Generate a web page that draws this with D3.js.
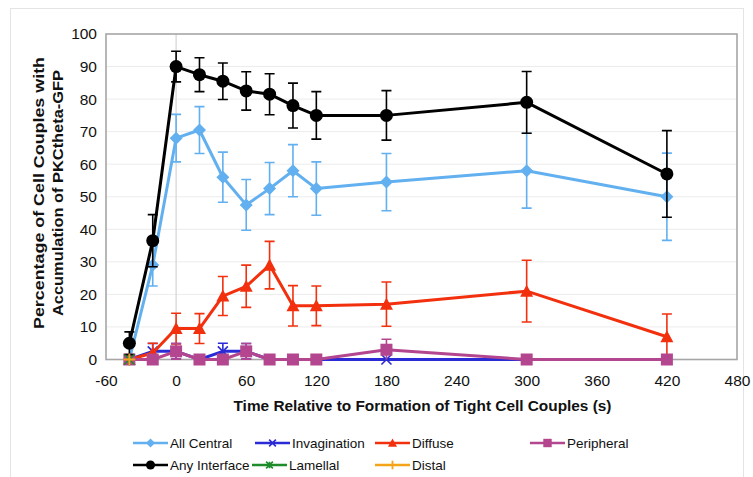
<!DOCTYPE html>
<html>
<head>
<meta charset="utf-8">
<script src="https://cdn.jsdelivr.net/npm/d3@7"></script>
<style>
  html, body { margin: 0; padding: 0; background: #fff; }
  svg { display: block; font-family: "Liberation Sans", Arial, sans-serif; }
</style>
</head>
<body>
<svg id="chart" width="753" height="477"></svg>
<script>
// Time points (s) relative to tight couple formation
const times = [-40, -20, 0, 20, 40, 60, 80, 100, 120, 180, 300, 420];

// Percentage of couples per accumulation pattern, with error bar half-widths
const allCentral       = [0, 29, 68, 70.5, 56, 47.5, 52.5, 58, 52.5, 54.5, 58, 50];
const allCentralErr    = [0, 6.4, 7.3, 7.2, 7.7, 7.8, 8, 8, 8.2, 8.8, 11.5, 13.4];
const anyInterface     = [5, 36.5, 90, 87.5, 85.5, 82.5, 81.5, 78, 75, 75, 79, 57];
const anyInterfaceErr  = [3.5, 8, 4.7, 5.2, 5.6, 5.9, 6.3, 6.9, 7.3, 7.6, 9.5, 13.3];
const invagination     = [0, 2.5, 2.5, 0, 2.5, 2.5, 0, 0, 0, 0, 0, 0];
const invaginationErr  = [0, 2.4, 2.4, 0, 2.5, 2.4, 0, 0, 0, 0, 0, 0];
const lamellal         = [0, null, null, null, null, null, null, null, null, null, null, null];
const diffuse          = [0, 2, 9.5, 9.5, 19.5, 22.5, 29, 16.5, 16.5, 17, 21, 7];
const diffuseErr       = [0, 3, 4.7, 4.6, 6, 6.5, 7.3, 6.2, 6.1, 6.8, 9.5, 7];
const distal           = [0, null, null, null, null, null, null, null, null, null, null, null];
const peripheral       = [0, 0, 2.5, 0, 0, 2.5, 0, 0, 0, 3, 0, 0];
const peripheralErr    = [0, 0, 2.4, 0, 0, 2.4, 0, 0, 0, 3.2, 0, 0];

// Axis ticks
const xTicks = [-60, 0, 60, 120, 180, 240, 300, 360, 420, 480];
const yTicks = [0, 10, 20, 30, 40, 50, 60, 70, 80, 90, 100];

const xTitle = "Time Relative to Formation of Tight Cell Couples (s)";
const yTitle = ["Percentage of Cell Couples with", "Accumulation of PKCtheta-GFP"];

// Series table (draw order), built from the arrays above
const series = [
  { name: "All Central",   values: allCentral,   err: allCentralErr,   color: "#62B0EF", marker: "diamond" },
  { name: "Invagination",  values: invagination, err: invaginationErr, color: "#2A2AD6", marker: "cross" },
  { name: "Diffuse",       values: diffuse,      err: diffuseErr,      color: "#F2300E", marker: "triangle" },
  { name: "Peripheral",    values: peripheral,   err: peripheralErr,   color: "#B3468E", marker: "square" },
  { name: "Any Interface", values: anyInterface, err: anyInterfaceErr, color: "#000000", marker: "circle" },
  { name: "Lamellal",      values: lamellal,     err: null,            color: "#1E8C2A", marker: "asterisk" },
  { name: "Distal",        values: distal,       err: null,            color: "#F4A418", marker: "plus" }
];

const FONT = "'Liberation Sans', Arial, sans-serif";
const svg = d3.select("#chart");

// Outer chart frame
svg.append("rect").attr("x", 10.5).attr("y", 8.5).attr("width", 733).attr("height", 470)
  .attr("fill", "none").attr("stroke", "#e4e4e4").attr("stroke-width", 1);

const plot = { left: 106, right: 737, top: 34, bottom: 359.5 };
const x = d3.scaleLinear().domain([-60, 480]).range([plot.left, plot.right]);
const y = d3.scaleLinear().domain([0, 100]).range([plot.bottom, plot.top]);

// Horizontal gridlines
svg.append("g").selectAll("line").data(yTicks.filter(t => t > 0 && t < 100)).join("line")
  .attr("x1", plot.left).attr("x2", plot.right)
  .attr("y1", d => y(d)).attr("y2", d => y(d))
  .attr("stroke", "#ececec").attr("stroke-width", 1);

// Vertical line at t = 0
svg.append("line")
  .attr("x1", x(0)).attr("x2", x(0)).attr("y1", plot.top).attr("y2", plot.bottom)
  .attr("stroke", "#d4d4d4").attr("stroke-width", 1.2);

// Plot box
svg.append("rect")
  .attr("x", plot.left).attr("y", plot.top)
  .attr("width", plot.right - plot.left).attr("height", plot.bottom - plot.top)
  .attr("fill", "none").attr("stroke", "#a6a6a6").attr("stroke-width", 1.6);

// Axes (labels only; the box draws the axis lines)
const yAxis = d3.axisLeft(y).tickValues(yTicks).tickSize(0).tickPadding(9);
const yg = svg.append("g").attr("transform", `translate(${plot.left},0)`).call(yAxis);
yg.select(".domain").remove();
yg.selectAll("text").attr("font-size", 15.5).attr("fill", "#111").attr("font-family", FONT);

const xAxis = d3.axisBottom(x).tickValues(xTicks).tickSize(0).tickPadding(15)
  .tickFormat(d => String(d));
const xg = svg.append("g").attr("transform", `translate(0,${plot.bottom})`).call(xAxis);
xg.select(".domain").remove();
xg.selectAll("text").attr("font-size", 15.5).attr("fill", "#111").attr("font-family", FONT);

// Axis titles
svg.append("text").attr("x", 422.5).attr("y", 410.5)
  .attr("text-anchor", "middle").attr("font-size", 15.3).attr("font-weight", "bold")
  .attr("fill", "#111").attr("textLength", 378).attr("lengthAdjust", "spacingAndGlyphs")
  .text(xTitle);

const yTitleG = svg.append("g").attr("transform", "translate(0,193) rotate(-90)");
yTitleG.append("text").attr("x", 0).attr("y", 44)
  .attr("text-anchor", "middle").attr("font-size", 15.5).attr("font-weight", "bold").attr("fill", "#111")
  .attr("textLength", 272).attr("lengthAdjust", "spacingAndGlyphs").text(yTitle[0]);
yTitleG.append("text").attr("x", 0).attr("y", 63)
  .attr("text-anchor", "middle").attr("font-size", 15.5).attr("font-weight", "bold").attr("fill", "#111")
  .attr("textLength", 246).attr("lengthAdjust", "spacingAndGlyphs").text(yTitle[1]);

// Marker drawing helper
function drawMarker(g, type, cx, cy, size, color) {
  const s = size;
  if (type === "circle") {
    g.append("circle").attr("cx", cx).attr("cy", cy).attr("r", s / 2).attr("fill", color);
  } else if (type === "diamond") {
    const h = s / 2;
    g.append("path").attr("d", `M${cx},${cy - h}L${cx + h},${cy}L${cx},${cy + h}L${cx - h},${cy}Z`).attr("fill", color);
  } else if (type === "triangle") {
    const h = s / 2;
    g.append("path").attr("d", `M${cx},${cy - h}L${cx + h},${cy + h * 0.85}L${cx - h},${cy + h * 0.85}Z`).attr("fill", color);
  } else if (type === "square") {
    g.append("rect").attr("x", cx - s / 2).attr("y", cy - s / 2).attr("width", s).attr("height", s).attr("fill", color);
  } else if (type === "cross") {
    const h = s / 2 - 0.5;
    g.append("path").attr("d", `M${cx - h},${cy - h}L${cx + h},${cy + h}M${cx - h},${cy + h}L${cx + h},${cy - h}`)
      .attr("stroke", color).attr("stroke-width", 1.6).attr("fill", "none");
  } else if (type === "asterisk") {
    const h = s / 2 - 0.5;
    g.append("path").attr("d", `M${cx - h},${cy - h}L${cx + h},${cy + h}M${cx - h},${cy + h}L${cx + h},${cy - h}M${cx},${cy - h}L${cx},${cy + h}`)
      .attr("stroke", color).attr("stroke-width", 1.6).attr("fill", "none");
  } else if (type === "plus") {
    const h = s / 2;
    g.append("path").attr("d", `M${cx - h},${cy}L${cx + h},${cy}M${cx},${cy - h}L${cx},${cy + h}`)
      .attr("stroke", color).attr("stroke-width", 1.8).attr("fill", "none");
  }
}

const markerSize = { circle: 13, diamond: 13, triangle: 13, square: 12, cross: 11, asterisk: 11, plus: 12 };

const line = d3.line().defined(d => d.v != null).x(d => x(d.t)).y(d => y(d.v));

series.forEach(s => {
  const pts = times.map((t, i) => ({ t, v: s.values[i], e: s.err ? s.err[i] : 0 }));
  const g = svg.append("g");
  // connecting line
  g.append("path").datum(pts).attr("d", line)
    .attr("fill", "none").attr("stroke", s.color).attr("stroke-width", 3).attr("stroke-linejoin", "round");
  // error bars
  pts.filter(p => p.v != null && p.e > 0).forEach(p => {
    const lo = Math.max(0, p.v - p.e), hi = p.v + p.e;
    const cx = x(p.t);
    g.append("path")
      .attr("d", `M${cx},${y(lo)}L${cx},${y(hi)}M${cx - 5},${y(hi)}L${cx + 5},${y(hi)}` + (p.v - p.e > 0 ? `M${cx - 5},${y(lo)}L${cx + 5},${y(lo)}` : ""))
      .attr("stroke", s.color).attr("stroke-width", 1.6).attr("fill", "none");
  });
  // markers
  pts.filter(p => p.v != null).forEach(p => {
    drawMarker(g, s.marker, x(p.t), y(p.v), markerSize[s.marker], s.color);
  });
});

// Legend
const legendItems = [
  { name: "All Central",   x: 133, y: 443 },
  { name: "Invagination",  x: 255, y: 443 },
  { name: "Diffuse",       x: 375, y: 443 },
  { name: "Peripheral",    x: 530, y: 443 },
  { name: "Any Interface", x: 133, y: 465 },
  { name: "Lamellal",      x: 252, y: 465 },
  { name: "Distal",        x: 375, y: 465 }
];
const lg = svg.append("g");
legendItems.forEach(it => {
  const s = series.find(d => d.name === it.name);
  lg.append("line").attr("x1", it.x).attr("x2", it.x + 35).attr("y1", it.y).attr("y2", it.y)
    .attr("stroke", s.color).attr("stroke-width", 2.5);
  drawMarker(lg, s.marker, it.x + 17.5, it.y, markerSize[s.marker] * 0.7, s.color);
  lg.append("text").attr("x", it.x + 37).attr("y", it.y).attr("dy", "0.35em")
    .attr("font-size", 13.5).attr("fill", "#111").attr("font-family", FONT).text(s.name);
});
</script>
</body>
</html>
